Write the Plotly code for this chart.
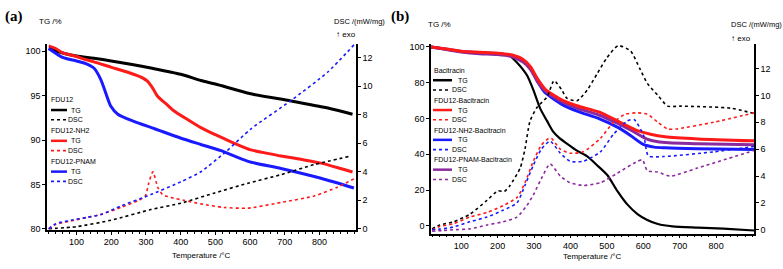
import plotly.graph_objects as go

W, H = 783, 269

# ---------------- Panel (a) data ----------------
T_a_fdu12_tg = [20, 60, 100, 150, 200, 260, 314, 400, 458, 500, 602, 718, 824, 895]
TG_a_fdu12 = [100.3, 99.8, 99.45, 99.2, 98.9, 98.5, 98.1, 97.4, 96.7, 96.3, 95.2, 94.4, 93.6, 92.9]

T_a_nh2_tg = [20, 40, 60, 100, 121, 150, 199, 250, 290, 305, 320, 334, 360, 380, 420, 458, 500, 545, 602, 650, 689, 750, 804, 860, 895]
TG_a_nh2 = [100.6, 100.3, 99.8, 99.4, 99.1, 98.8, 98.2, 97.6, 97.0, 96.6, 95.8, 94.9, 94.0, 93.3, 92.3, 91.4, 90.6, 89.8, 88.9, 88.5, 88.2, 87.8, 87.4, 86.8, 86.4]

T_a_pnam_tg = [20, 60, 100, 127, 150, 170, 185, 199, 219, 265, 323, 401, 458, 516, 594, 689, 804, 899]
TG_a_pnam = [100.3, 99.3, 98.9, 98.6, 98.1, 96.8, 95.2, 93.8, 92.9, 92.1, 91.3, 90.2, 89.5, 88.8, 87.6, 86.8, 85.7, 84.6]

T_a_fdu12_dsc = [20, 100, 199, 314, 401, 496, 594, 689, 784, 890]
DSC_a_fdu12 = [0.0, 0.15, 0.6, 1.35, 1.8, 2.5, 3.2, 3.8, 4.5, 5.1]

T_a_nh2_dsc = [20, 40, 84, 130, 170, 228, 280, 298, 308, 320, 334, 348, 372, 409, 458, 524, 594, 689, 784, 850, 899]
DSC_a_nh2 = [0.0, 0.3, 0.55, 0.8, 1.0, 1.5, 2.0, 2.3, 3.2, 4.0, 2.9, 2.4, 2.2, 2.0, 1.75, 1.5, 1.45, 1.85, 2.3, 2.9, 3.5]

T_a_pnam_dsc = [20, 40, 84, 130, 170, 228, 314, 401, 458, 530, 602, 718, 824, 899]
DSC_a_pnam = [0.0, 0.35, 0.6, 0.8, 1.0, 1.6, 2.4, 3.3, 4.0, 5.4, 7.0, 9.0, 11.0, 12.9]

# ---------------- Panel (b) data ----------------
T_b_bac_tg = [17, 60, 100, 150, 207, 234, 242, 253, 267, 281, 298, 317, 336, 353, 370, 390, 418, 446, 473, 501, 528, 556, 584, 611, 640, 680, 750, 820, 904]
TG_b_bac = [100, 98.6, 97.3, 96.7, 96.2, 95.0, 93.5, 91.3, 88.0, 84.0, 76.0, 65.5, 58.5, 52.5, 49.0, 46.0, 42.0, 38.8, 33.9, 28.4, 19.7, 12.0, 6.6, 3.3, 1.0, -0.3, -1.0, -1.6, -2.6]

T_b_fdu_tg = [17, 60, 100, 150, 200, 240, 270, 290, 310, 330, 350, 380, 420, 480, 530, 580, 620, 660, 750, 904]
TG_b_fdu = [100, 98.8, 97.6, 97.0, 96.5, 95.5, 93.0, 89.0, 82.0, 76.5, 73.5, 70.0, 67.0, 63.5, 58.5, 53.5, 51.2, 49.8, 48.6, 47.5]

T_b_nh2_tg = [17, 60, 100, 150, 200, 240, 270, 290, 310, 330, 350, 380, 420, 480, 530, 565, 600, 630, 660, 750, 904]
TG_b_nh2 = [100, 98.7, 97.4, 96.8, 96.2, 95.0, 92.5, 88.5, 80.5, 74.5, 71.5, 67.5, 64.0, 59.8, 55.0, 50.5, 45.5, 44.0, 43.6, 43.1, 42.6]

T_b_pnam_tg = [17, 60, 100, 150, 200, 240, 270, 290, 310, 330, 350, 380, 420, 480, 530, 570, 610, 640, 670, 750, 904]
TG_b_pnam = [100, 98.5, 97.2, 96.2, 95.7, 94.5, 91.5, 87.5, 80.5, 75.5, 72.5, 69.0, 65.7, 61.8, 57.2, 53.0, 48.5, 47.0, 46.4, 45.9, 45.3]

T_b_bac_dsc = [20, 41, 77, 124, 171, 201, 218, 234, 262, 275, 289, 308, 336, 355, 376, 390, 418, 446, 473, 500, 531, 565, 592, 611, 640, 667, 702, 840, 904]
DSC_b_bac = [0.07, 0.36, 0.58, 1.16, 2.2, 2.9, 2.85, 3.3, 4.6, 6.0, 8.1, 9.1, 9.9, 11.1, 10.4, 9.8, 9.6, 10.4, 11.6, 12.8, 13.7, 13.3, 11.9, 10.9, 10.0, 9.2, 9.2, 9.05, 8.65]

T_b_fdu_dsc = [20, 41, 77, 124, 171, 215, 253, 275, 298, 320, 340, 348, 372, 399, 435, 482, 518, 550, 584, 611, 640, 667, 690, 793, 904]
DSC_b_fdu = [0.0, 0.25, 0.44, 0.95, 1.3, 1.8, 2.4, 3.5, 5.1, 6.3, 6.8, 6.8, 6.0, 5.7, 5.8, 6.8, 8.0, 8.6, 8.7, 8.6, 8.0, 7.5, 7.5, 8.0, 8.7]

T_b_nh2_dsc = [20, 41, 77, 124, 171, 215, 253, 275, 298, 320, 344, 372, 399, 435, 482, 518, 556, 575, 601, 614, 656, 793, 904]
DSC_b_nh2 = [0.0, 0.05, 0.2, 0.6, 0.95, 1.45, 2.0, 3.3, 4.8, 6.0, 6.6, 5.7, 5.1, 5.1, 5.8, 7.1, 8.1, 8.2, 7.0, 5.5, 5.45, 5.8, 6.2]

T_b_pnam_dsc = [20, 50, 77, 124, 171, 215, 253, 280, 298, 320, 344, 372, 399, 435, 482, 528, 584, 598, 611, 639, 675, 749, 904]
DSC_b_pnam = [-0.1, -0.05, 0.0, 0.07, 0.36, 0.6, 0.95, 1.8, 2.6, 3.8, 4.9, 4.0, 3.5, 3.3, 3.5, 4.2, 5.1, 5.2, 4.4, 4.3, 4.0, 4.6, 5.9]

x_ticks = [100, 200, 300, 400, 500, 600, 700, 800]
tg_ticks_a = [80, 85, 90, 95, 100]
tg_ticks_b = [0, 20, 40, 60, 80, 100]
dsc_ticks = [0, 2, 4, 6, 8, 10, 12]

BLACK = "#000000"
RED = "#ff1a1a"
BLUE = "#1a1aff"
PURPLE = "#8a2a9e"

FONT = "Liberation Sans, Arial, sans-serif"

fig = go.Figure()

def tg(x, y, color, xa, ya, w=3):
    fig.add_trace(go.Scatter(x=x, y=y, mode="lines", xaxis=xa, yaxis=ya,
                             line=dict(color=color, width=w, shape="spline", smoothing=0.7),
                             showlegend=False, hoverinfo="skip"))

def dsc(x, y, color, xa, ya, w=1.6):
    fig.add_trace(go.Scatter(x=x, y=y, mode="lines", xaxis=xa, yaxis=ya,
                             line=dict(color=color, width=w, dash="dot", shape="spline", smoothing=0.6),
                             showlegend=False, hoverinfo="skip"))

# panel a
dsc(T_a_fdu12_dsc, DSC_a_fdu12, BLACK, "x", "y2")
dsc(T_a_nh2_dsc, DSC_a_nh2, RED, "x", "y2")
dsc(T_a_pnam_dsc, DSC_a_pnam, BLUE, "x", "y2")
tg(T_a_fdu12_tg, TG_a_fdu12, BLACK, "x", "y")
tg(T_a_nh2_tg, TG_a_nh2, RED, "x", "y")
tg(T_a_pnam_tg, TG_a_pnam, BLUE, "x", "y")

# panel b
dsc(T_b_bac_dsc, DSC_b_bac, BLACK, "x2", "y4")
dsc(T_b_fdu_dsc, DSC_b_fdu, RED, "x2", "y4")
dsc(T_b_nh2_dsc, DSC_b_nh2, BLUE, "x2", "y4")
dsc(T_b_pnam_dsc, DSC_b_pnam, PURPLE, "x2", "y4")
tg(T_b_bac_tg, TG_b_bac, BLACK, "x2", "y3", w=2.2)
tg(T_b_nh2_tg, TG_b_nh2, BLUE, "x2", "y3")
tg(T_b_pnam_tg, TG_b_pnam, PURPLE, "x2", "y3")
tg(T_b_fdu_tg, TG_b_fdu, RED, "x2", "y3")

def px(x):
    return x / W

def py(y):
    return 1 - y / H

axfont = dict(family=FONT, size=9, color="black")
xcommon = dict(showgrid=False, zeroline=False, showline=True, linecolor="black", linewidth=1.5,
               ticks="outside", ticklen=3, tickwidth=1.2, tickcolor="black", tickvals=x_ticks,
               tickfont=axfont, minor=dict(dtick=20, ticks="outside", ticklen=2, tickcolor="black"))
ycommon = dict(showgrid=False, zeroline=False, showline=True, linecolor="black", linewidth=1.5,
               ticks="outside", ticklen=3, tickwidth=1.2, tickcolor="black", tickfont=axfont)

fig.update_layout(
    width=W, height=H, margin=dict(l=0, r=0, t=0, b=0),
    paper_bgcolor="white", plot_bgcolor="white", showlegend=False,
    xaxis=dict(domain=[px(47), px(356)], range=[15, 905], anchor="y", **xcommon),
    yaxis=dict(domain=[py(233), py(43)], range=[79.9, 100.8], tickvals=tg_ticks_a, anchor="x", **ycommon),
    yaxis2=dict(range=[-0.07, 12.96], tickvals=dsc_ticks, overlaying="y", side="right", anchor="x", **ycommon),
    xaxis2=dict(domain=[px(431), px(754)], range=[17, 904], anchor="y3", **xcommon),
    yaxis3=dict(domain=[py(237), py(43)], range=[-4.4, 101.6], tickvals=tg_ticks_b, anchor="x2", **ycommon),
    yaxis4=dict(range=[-0.29, 13.82], tickvals=dsc_ticks, overlaying="y3", side="right", anchor="x2", **ycommon),
)

ann = []
shapes = []

def text(x, y, s, size=9, xanchor="left", family=FONT, bold=False):
    t = f"<b>{s}</b>" if bold else s
    ann.append(dict(x=px(x), y=py(y), xref="paper", yref="paper", text=t, showarrow=False,
                    xanchor=xanchor, yanchor="middle", font=dict(family=family, size=size, color="black")))

def legline(x0, x1, y, color, dot=False):
    shapes.append(dict(type="line", xref="paper", yref="paper", x0=px(x0), x1=px(x1), y0=py(y), y1=py(y),
                       line=dict(color=color, width=1.6 if dot else 2.5, dash="dot" if dot else "solid")))

text(3, 15, "(a)", size=15, family="Liberation Serif, Times New Roman, serif", bold=True)
text(389, 15, "(b)", size=15, family="Liberation Serif, Times New Roman, serif", bold=True)
text(37, 20, "TG /%", size=8)
text(426, 23, "TG /%", size=8)
text(332, 20, "DSC /(mW/mg)", size=7.5)
text(334, 33, "↑ exo", size=8)
text(729, 23, "DSC /(mW/mg)", size=7.5)
text(729, 37, "↑ exo", size=8)
text(201.5, 259, "Temperature /°C", size=8, xanchor="center")
text(592, 260, "Temperature /°C", size=8, xanchor="center")

# legend (a)
leg_a = [("FDU12", BLACK), ("FDU12-NH2", RED), ("FDU12-PNAM", BLUE)]
y0 = 100
for name, col in leg_a:
    text(49, y0, name, size=7)
    legline(51, 67, y0 + 10.5, col)
    text(69, y0 + 10.5, "TG", size=7)
    legline(51, 66, y0 + 20.5, col, dot=True)
    text(66, y0 + 20.5, "DSC", size=7)
    y0 += 31.5

# legend (b)
leg_b = [("Bacitracin", BLACK), ("FDU12-Bacitracin", RED), ("FDU12-NH2-Bacitracin", BLUE),
         ("FDU12-PNAM-Bacitracin", PURPLE)]
y0 = 70
for name, col in leg_b:
    text(432, y0, name, size=7)
    legline(433, 452, y0 + 10, col)
    text(456, y0 + 10, "TG", size=7)
    legline(433, 450, y0 + 20, col, dot=True)
    text(450, y0 + 20, "DSC", size=7)
    y0 += 30.5

fig.update_layout(annotations=ann, shapes=shapes)
fig.write_html("out.html")
